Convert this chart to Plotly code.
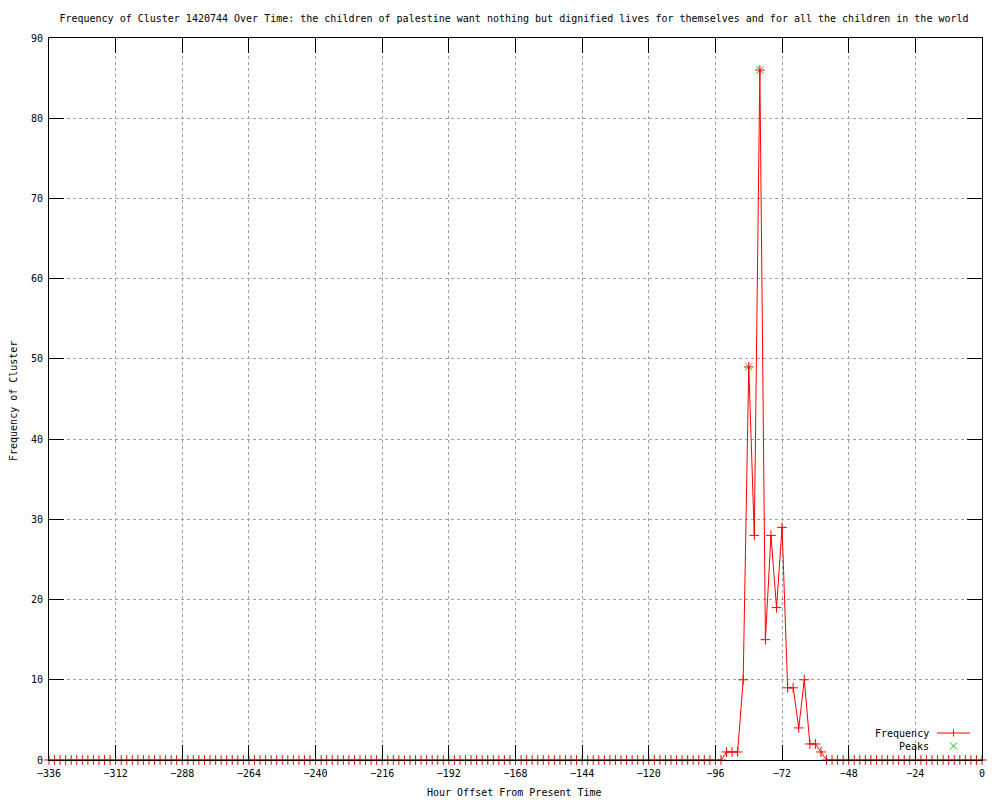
import plotly.graph_objs as go

# hour offsets, one sample every 2 hours
hours = list(range(-336, 1, 2))

frequency = [
    0, 0, 0, 0, 0, 0, 0, 0, 0, 0, 0, 0, 0, 0, 0, 0, 0, 0, 0, 0,   # -336 .. -298
    0, 0, 0, 0, 0, 0, 0, 0, 0, 0, 0, 0, 0, 0, 0, 0, 0, 0, 0, 0,   # -296 .. -258
    0, 0, 0, 0, 0, 0, 0, 0, 0, 0, 0, 0, 0, 0, 0, 0, 0, 0, 0, 0,   # -256 .. -218
    0, 0, 0, 0, 0, 0, 0, 0, 0, 0, 0, 0, 0, 0, 0, 0, 0, 0, 0, 0,   # -216 .. -178
    0, 0, 0, 0, 0, 0, 0, 0, 0, 0, 0, 0, 0, 0, 0, 0, 0, 0, 0, 0,   # -176 .. -138
    0, 0, 0, 0, 0, 0, 0, 0, 0, 0, 0, 0, 0, 0, 0, 0, 0, 0, 0, 0,   # -136 .. -98
    0, 0,                                                         # -96 .. -94
    1, 1, 1, 10, 49, 28, 86, 15, 28, 19, 29, 9, 9, 4, 10, 2, 2, 1,  # -92 .. -58
    0, 0, 0, 0, 0, 0, 0, 0, 0, 0, 0, 0, 0, 0, 0, 0, 0, 0, 0, 0,   # -56 .. -18
    0, 0, 0, 0, 0, 0, 0, 0, 0,                                    # -16 .. 0
]

peak_hours = [-84, -80]
peak_values = [49, 86]

title = ('Frequency of Cluster 1420744 Over Time: the children of palestine '
         'want nothing but dignified lives for themselves and for all the '
         'children in the world')

FONT = 'DejaVu Sans Mono'

# the page body has an 8px margin, so the figure is drawn shifted by 8px
OFF = 8

# plot area in screen pixels
L, R, T, B = 49, 982, 38, 760


def px(x):
    return (x - L) / (R - L)


def py(y):
    return (B - y) / (B - T)


fig = go.Figure()

# peaks first so the red crosses sit on top of the green x's
fig.add_trace(
    go.Scatter(
        x=peak_hours,
        y=peak_values,
        mode='markers',
        marker=dict(symbol='x-thin', size=7,
                    line=dict(color='#00c000', width=1)),
        cliponaxis=False,
        name='Peaks',
    )
)

fig.add_trace(
    go.Scatter(
        x=hours,
        y=frequency,
        mode='lines+markers',
        line=dict(color='#ff0000', width=1),
        marker=dict(symbol='cross-thin', size=7,
                    line=dict(color='#ff0000', width=1)),
        cliponaxis=False,
        name='Frequency',
    )
)

# gnuplot style key, text left of the sample
shapes = [
    dict(type='line', xref='paper', yref='paper',
         x0=px(937), x1=px(970), y0=py(733), y1=py(733),
         line=dict(color='#ff0000', width=1)),
    dict(type='line', xref='paper', yref='paper',
         x0=px(953.5), x1=px(953.5), y0=py(729.5), y1=py(736.5),
         line=dict(color='#ff0000', width=1)),
    dict(type='line', xref='paper', yref='paper',
         x0=px(950), x1=px(957), y0=py(742.5), y1=py(749.5),
         line=dict(color='#00c000', width=1)),
    dict(type='line', xref='paper', yref='paper',
         x0=px(950), x1=px(957), y0=py(749.5), y1=py(742.5),
         line=dict(color='#00c000', width=1)),
]

annotations = [
    dict(text='Frequency', xref='paper', yref='paper', x=px(931), y=py(733),
         xanchor='right', yanchor='middle', showarrow=False),
    dict(text='Peaks', xref='paper', yref='paper', x=px(931), y=py(746),
         xanchor='right', yanchor='middle', showarrow=False),
    dict(text='Hour Offset From Present Time', xref='paper', yref='paper',
         x=px(514), y=py(793), xanchor='center', yanchor='middle',
         showarrow=False),
    dict(text='Frequency of Cluster', xref='paper', yref='paper',
         x=px(13), y=py(401), xanchor='center', yanchor='middle',
         textangle=-90, showarrow=False),
]

axis_style = dict(
    showline=True,
    linecolor='black',
    linewidth=1,
    mirror='ticks',
    ticks='inside',
    ticklen=15,
    tickcolor='black',
    tickwidth=1,
    showgrid=True,
    gridcolor='#a0a0a0',
    gridwidth=1,
    griddash='3px,3px',
    zeroline=False,
    tickfont=dict(family=FONT, size=10, color='black'),
)

fig.update_layout(
    width=1000,
    height=800,
    margin=dict(l=L - OFF, r=1000 - R + OFF, t=T - OFF, b=800 - B + OFF),
    paper_bgcolor='white',
    plot_bgcolor='white',
    font=dict(family=FONT, size=10, color='black'),
    title=dict(text=title, xref='paper', x=px(514), xanchor='center',
               y=1 - (18 - OFF) / 800, yanchor='middle',
               font=dict(family=FONT, size=10, color='black')),
    showlegend=False,
    xaxis=dict(range=[-336, 0], tick0=0, dtick=24, ticklabelstandoff=4,
               **axis_style),
    yaxis=dict(range=[0, 90], tick0=0, dtick=10, ticklabelstandoff=3,
               **axis_style),
    shapes=shapes,
    annotations=annotations,
)

fig.write_html('out.html')
